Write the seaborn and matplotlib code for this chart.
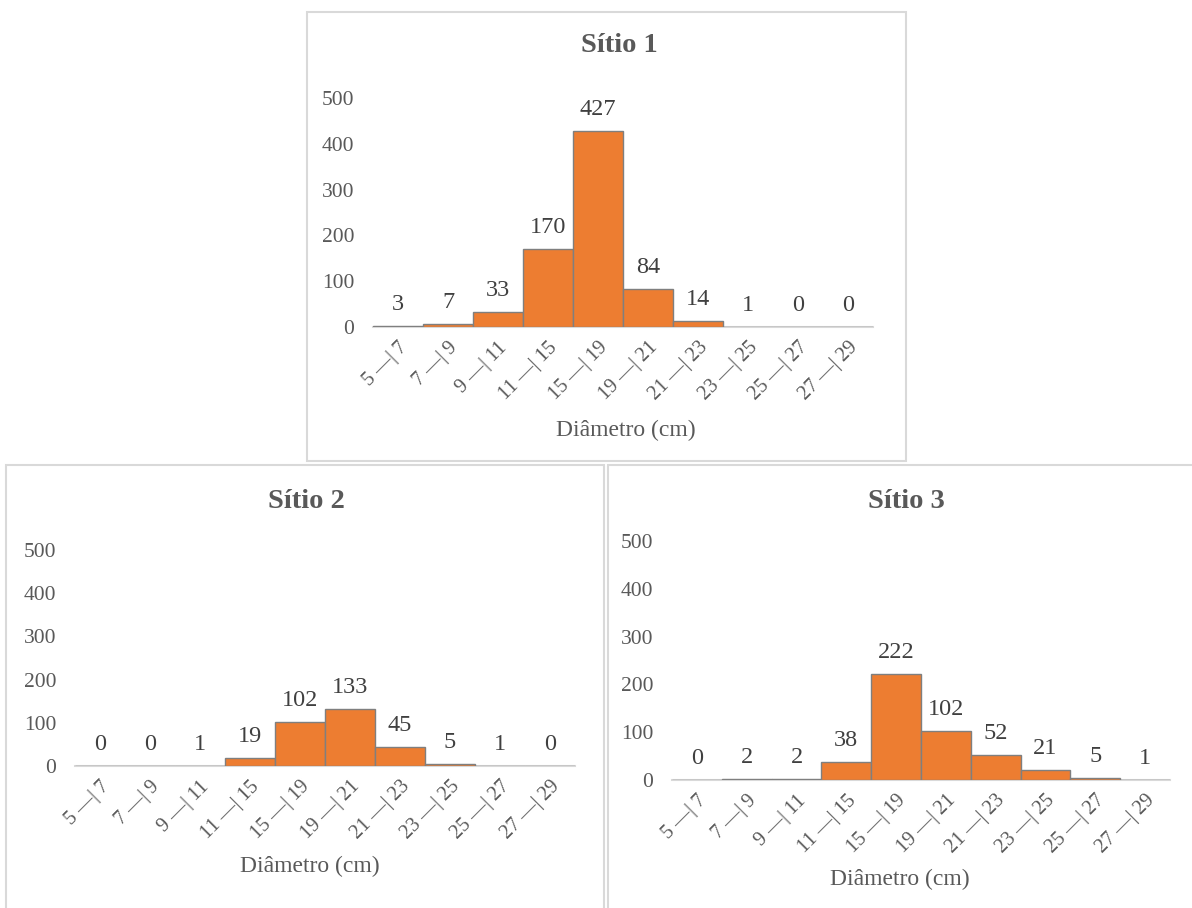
import matplotlib

matplotlib.use("Agg")

import matplotlib.pyplot as plt
import pandas as pd
import seaborn as sns
from matplotlib.patches import Rectangle


CLASSES = ["5 —| 7", "7 —| 9", "9 —| 11", "11 —| 15", "15 —| 19",
           "19 —| 21", "21 —| 23", "23 —| 25", "25 —| 27", "27 —| 29"]
SITIO_1 = [3, 7, 33, 170, 427, 84, 14, 1, 0, 0]
SITIO_2 = [0, 0, 1, 19, 102, 133, 45, 5, 1, 0]
SITIO_3 = [0, 2, 2, 38, 222, 102, 52, 21, 5, 1]
Y_TICKS = [0, 100, 200, 300, 400, 500]

W, H = 1192, 908
BAR_COLOR = "#ED7D31"
EDGE_COLOR = "#7F7F7F"
GRID_GRAY = "#D9D9D9"
TEXT_GRAY = "#595959"
LABEL_GRAY = "#404040"

sns.set_theme(style="white")
plt.rcParams["font.family"] = ["Liberation Serif", "DejaVu Serif"]

fig = plt.figure(figsize=(W / 100, H / 100), dpi=100)
fig.patch.set_facecolor("white")


def px_rect(x0, y0, x1, y1):
    # pixel box (top-left origin) -> figure fraction [l, b, w, h]
    return [x0 / W, 1 - y1 / H, (x1 - x0) / W, (y1 - y0) / H]


def draw_panel(values, title, box, plot_box, title_pos, xlabel_pos):
    bx0, by0, bx1, by1 = box
    fig.patches.append(Rectangle((bx0 / W, 1 - by1 / H), (bx1 - bx0) / W, (by1 - by0) / H,
                                 transform=fig.transFigure, fill=False,
                                 edgecolor=GRID_GRAY, linewidth=1.5, zorder=0))

    ax = fig.add_axes(px_rect(*plot_box))
    df = pd.DataFrame({"classe": CLASSES, "n": values})
    sns.barplot(data=df, x="classe", y="n", color=BAR_COLOR, width=1.0,
                edgecolor=EDGE_COLOR, linewidth=1.0, saturation=1, ax=ax)
    ax.set_xlim(-0.5, len(CLASSES) - 0.5)
    ax.set_ylim(0, 500)
    ax.set_yticks(Y_TICKS)
    ax.set_facecolor("none")

    for side in ("top", "right", "left"):
        ax.spines[side].set_visible(False)
    ax.spines["bottom"].set_color(GRID_GRAY)
    ax.spines["bottom"].set_linewidth(1.5)
    ax.spines["bottom"].set_zorder(0)

    ax.tick_params(axis="y", length=0, pad=13.5, labelsize=15.5, labelcolor=TEXT_GRAY)
    ax.tick_params(axis="x", length=0, pad=8, labelsize=14.5, labelcolor=TEXT_GRAY)
    ax.set_xticks(range(len(CLASSES)))
    ax.set_xticklabels(CLASSES, rotation=45, ha="right", va="top", rotation_mode="anchor")
    ax.set_xlabel("")
    ax.set_ylabel("")

    for i, v in enumerate(values):
        ax.annotate(str(v), (i, v), xytext=(0, 11.5), textcoords="offset points",
                    ha="center", va="baseline", fontsize=17.5, color=LABEL_GRAY,
                    annotation_clip=False)

    fig.text(title_pos[0] / W, 1 - title_pos[1] / H, title, ha="center", va="center",
             fontsize=20.5, fontweight="bold", color=TEXT_GRAY)
    fig.text(xlabel_pos[0] / W, 1 - xlabel_pos[1] / H, "Diâmetro (cm)", ha="center",
             va="center", fontsize=17, color=TEXT_GRAY)


draw_panel(SITIO_1, "Sítio 1", (307, 12, 906, 461), (373, 98, 873, 327),
           (619, 45), (626, 430))
draw_panel(SITIO_2, "Sítio 2", (6, 465, 604, 912), (75, 550, 575, 766),
           (306, 501), (310, 866))
draw_panel(SITIO_3, "Sítio 3", (608, 465, 1196, 912), (672, 541, 1170, 780),
           (906, 502), (900, 879))

fig.savefig("out.png", dpi=100, facecolor="white")
plt.close(fig)
